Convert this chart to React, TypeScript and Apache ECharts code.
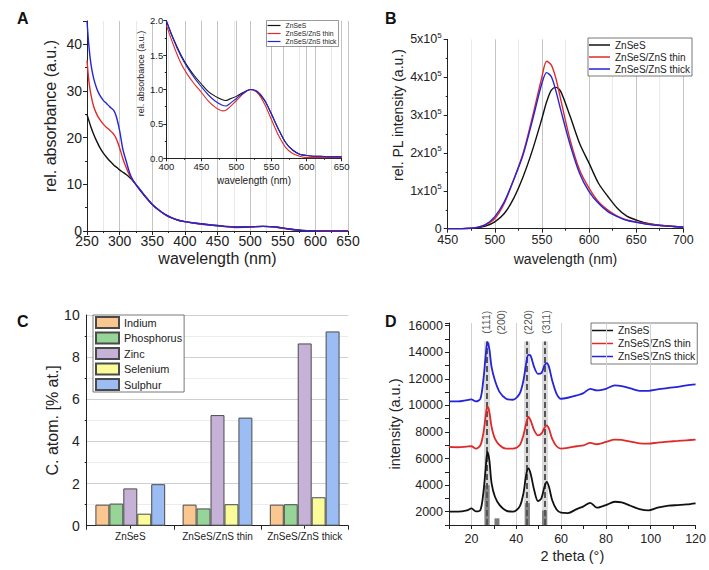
import React, { useEffect, useRef } from 'react';
import * as echarts from 'echarts';

const FONT = "'Liberation Sans', Arial, Helvetica, sans-serif";
const INK = '#222';
const C_BLACK = '#111111';
const C_RED = '#e02a2a';
const C_BLUE = '#2424d8';

const seriesNames = ['ZnSeS', 'ZnSeS/ZnS thin', 'ZnSeS/ZnS thick'];

// Panel A main: absorbance
const aWl = [250, 253, 256, 260, 265, 270, 275, 280, 285, 290, 293, 296, 300, 305, 310, 315, 320, 330, 340, 350, 360, 370, 380, 390, 400, 420, 440, 460, 480, 500, 520, 540, 560, 580, 600, 625, 650];
const aBlack = [25.0, 23.6, 22.3, 20.8, 19.2, 17.8, 16.7, 15.8, 15.0, 14.3, 13.9, 13.6, 13.1, 12.6, 12.1, 11.5, 10.8, 9.1, 7.3, 5.7, 4.5, 3.5, 2.8, 2.3, 2.0, 1.6, 1.3, 1.05, 0.85, 0.9, 1.0, 0.85, 0.42, 0.12, 0.05, 0.03, 0.02];
const aRed = [36.5, 32.0, 29.2, 26.8, 25.0, 23.8, 22.9, 22.2, 21.6, 20.9, 20.3, 19.4, 17.8, 15.5, 13.6, 12.0, 10.9, 9.0, 7.3, 5.7, 4.5, 3.5, 2.8, 2.3, 2.0, 1.55, 1.25, 0.95, 0.75, 0.85, 1.0, 0.8, 0.35, 0.08, 0.02, 0.01, 0.01];
const aBlue = [45.0, 39.5, 35.8, 32.8, 30.5, 29.0, 28.0, 27.3, 26.6, 26.0, 25.3, 24.0, 21.5, 17.5, 15.0, 12.6, 11.0, 9.0, 7.3, 5.7, 4.5, 3.5, 2.8, 2.3, 2.0, 1.6, 1.28, 1.0, 0.8, 0.88, 1.0, 0.85, 0.42, 0.12, 0.05, 0.03, 0.03];

// Panel A inset: normalised absorbance
const iWl = [400, 410, 420, 430, 440, 450, 460, 470, 480, 485, 490, 500, 510, 520, 530, 540, 550, 560, 570, 580, 590, 600, 610, 620, 630, 640, 650];
const iBlack = [2.0, 1.74, 1.52, 1.34, 1.2, 1.08, 0.97, 0.9, 0.85, 0.84, 0.86, 0.9, 0.96, 1.0, 0.96, 0.84, 0.64, 0.42, 0.23, 0.12, 0.06, 0.04, 0.03, 0.03, 0.02, 0.02, 0.02];
const iRed = [1.94, 1.65, 1.4, 1.22, 1.08, 0.96, 0.83, 0.74, 0.69, 0.7, 0.74, 0.84, 0.94, 1.0, 0.95, 0.79, 0.56, 0.33, 0.16, 0.07, 0.03, 0.01, 0.01, 0.01, 0.01, 0.01, 0.01];
const iBlue = [2.0, 1.73, 1.5, 1.32, 1.17, 1.04, 0.92, 0.83, 0.77, 0.76, 0.79, 0.87, 0.95, 1.0, 0.97, 0.85, 0.64, 0.42, 0.23, 0.12, 0.06, 0.04, 0.03, 0.03, 0.02, 0.02, 0.02];

// Panel B: PL intensity
const bWl = [450, 460, 470, 480, 490, 500, 510, 520, 530, 540, 550, 555, 560, 565, 570, 580, 590, 600, 610, 620, 630, 640, 650, 660, 675, 690, 700];
const bBlack = [0, 0, 500, 2000, 7000, 18000, 40000, 80000, 137000, 208000, 291000, 335000, 366000, 373000, 362000, 296000, 225000, 173000, 120000, 85000, 54000, 33000, 23000, 15000, 9000, 6000, 5000];
const bRed = [0, 0, 500, 3000, 10000, 27000, 67000, 129000, 199000, 296000, 401000, 442000, 432000, 395000, 340000, 234000, 155000, 107000, 71000, 49000, 33000, 23000, 18000, 13000, 9000, 6000, 5000];
const bBlue = [0, 0, 500, 3000, 11000, 32000, 71000, 129000, 195000, 287000, 384000, 412000, 401000, 362000, 313000, 221000, 146000, 98000, 67000, 45000, 32000, 22000, 17000, 12000, 8000, 6000, 4000];

// Panel C: composition
const cCategories = ['ZnSeS', 'ZnSeS/ZnS thin', 'ZnSeS/ZnS thick'];
const cElements = ['Indium', 'Phosphorus', 'Zinc', 'Selenium', 'Sulphur'];
const cIndium = [1.0, 1.0, 1.0];
const cPhosphorus = [1.05, 0.82, 1.02];
const cZinc = [1.77, 5.25, 8.65];
const cSelenium = [0.57, 1.02, 1.35];
const cSulphur = [1.97, 5.13, 9.22];
const cColors = ['#f9c78f', '#97d497', '#c5b2d6', '#fbfb9a', '#9cbdf3'];

// Panel D: XRD
const dTheta = [10, 14, 18, 20, 22, 24, 25.3, 26.3, 27.1, 28, 29, 30.5, 32.6, 35.5, 38.5, 41.5, 43.2, 44.4, 45.4, 46.4, 48, 49.7, 51.2, 52.6, 53.6, 54.6, 56, 58, 60, 63, 67, 70, 73, 76, 80, 84, 87, 91, 95, 99, 103, 108, 112, 116, 120];
const dBlack = [2000, 2000, 2100, 2250, 2020, 2130, 3380, 5130, 6500, 5880, 4130, 3130, 2500, 2080, 2000, 2380, 3380, 4750, 5250, 4880, 3630, 2800, 3000, 3880, 4250, 3880, 2880, 2170, 1930, 1900, 2200, 2400, 2670, 2300, 2500, 2750, 2700, 2450, 2200, 2100, 2300, 2450, 2500, 2550, 2630];
const dRed = [6875, 6850, 6900, 6925, 6750, 7000, 7875, 9125, 9925, 9500, 8375, 7500, 7000, 6750, 6750, 7000, 7750, 8625, 9125, 8875, 8125, 7750, 7875, 8325, 8500, 8250, 7500, 6925, 6750, 6800, 6925, 7000, 7175, 7075, 7250, 7425, 7400, 7275, 7150, 7125, 7200, 7275, 7325, 7375, 7425];
const dBlue = [10300, 10300, 10400, 10450, 10300, 10500, 11875, 13625, 14750, 14250, 12875, 11875, 11000, 10500, 10425, 10875, 11875, 13125, 13800, 13750, 12875, 12375, 12425, 13000, 13175, 12900, 11900, 10875, 10500, 10575, 10750, 10925, 11250, 11125, 11250, 11500, 11450, 11275, 11100, 11100, 11200, 11325, 11400, 11500, 11575];
const dRefTheta = [27.0, 31.4, 45.0, 52.6];
const dRefHeight = [4000, 1500, 2650, 2100];
const dPeakTheta = [27.0, 44.9, 52.9];
const dPeakTop = [14800, 14800, 14800];
const hklTheta = [26.4, 33.0, 45.2, 53.1];
const hklLabels = ['(111)', '(200)', '(220)', '(311)'];
const hklLabelY = 16260;
const dGridTheta = [20, 40, 60, 80, 100];

const zip = (xs: number[], ys: number[]) => xs.map((x, i) => [x, ys[i]]);

const axisLine = { show: true, onZero: false, lineStyle: { color: INK, width: 1 } };
const tickStyle = { color: INK, width: 1 };
const lbl = (fontSize: number, margin: number, extra: any = {}) => ({ fontSize, margin, color: INK, fontFamily: FONT, ...extra });
const nameStyle = (fontSize: number, extra: any = {}) => ({ fontSize, color: INK, fontFamily: FONT, ...extra });

function buildOption(): any {
  const lineSeries = (name: string, data: number[][], color: string, xi: number, yi: number, width: number, smooth: number) => ({
    type: 'line', name, data, xAxisIndex: xi, yAxisIndex: yi, symbol: 'none', showSymbol: false, smooth,
    lineStyle: { color, width }, itemStyle: { color }, z: 5,
  });

  const series: any[] = [
    lineSeries(seriesNames[0], zip(aWl, aBlack), C_BLACK, 0, 0, 1.4, 0.3),
    lineSeries(seriesNames[1], zip(aWl, aRed), C_RED, 0, 0, 1.4, 0.3),
    lineSeries(seriesNames[2], zip(aWl, aBlue), C_BLUE, 0, 0, 1.4, 0.3),
    lineSeries(seriesNames[0], zip(iWl, iBlack), C_BLACK, 1, 1, 1.1, 0.3),
    lineSeries(seriesNames[1], zip(iWl, iRed), C_RED, 1, 1, 1.1, 0.3),
    lineSeries(seriesNames[2], zip(iWl, iBlue), C_BLUE, 1, 1, 1.1, 0.3),
    lineSeries(seriesNames[0], zip(bWl, bBlack), C_BLACK, 2, 2, 1.4, 0.3),
    lineSeries(seriesNames[1], zip(bWl, bRed), C_RED, 2, 2, 1.4, 0.3),
    lineSeries(seriesNames[2], zip(bWl, bBlue), C_BLUE, 2, 2, 1.4, 0.3),
  ];

  const cData = [cIndium, cPhosphorus, cZinc, cSelenium, cSulphur];
  cElements.forEach((el, k) => {
    series.push({
      type: 'bar', name: el, data: cData[k], xAxisIndex: 3, yAxisIndex: 3,
      barGap: '0%', barCategoryGap: '20%',
      itemStyle: { color: cColors[k], borderColor: '#4a4a4a', borderWidth: 1 },
    });
  });

  // D: vertical grid lines
  series.push({
    type: 'line', name: 'grid', data: [], xAxisIndex: 5, yAxisIndex: 4, z: 1, silent: true,
    markLine: {
      silent: true, symbol: ['none', 'none'], label: { show: false },
      lineStyle: { type: 'solid', color: '#d2d2d2', width: 1 },
      data: dGridTheta.map((t) => ({ xAxis: t })),
    },
  });
  // D: reference bars
  series.push({
    type: 'bar', name: 'ref', data: zip(dRefTheta, dRefHeight), xAxisIndex: 5, yAxisIndex: 4,
    barWidth: 5, z: 2, itemStyle: { color: '#7c7c7c' },
  });
  // D: dashed peak lines (halo + dash)
  const halo = dPeakTheta.map((t, i) => [
    { coord: [t, 1000], lineStyle: { type: 'solid', color: 'rgba(150,150,150,0.35)', width: 6 } },
    { coord: [t, dPeakTop[i]] },
  ]);
  const dash = dPeakTheta.map((t, i) => [
    { coord: [t, 1000], lineStyle: { type: [6, 3], color: '#555', width: 2 } },
    { coord: [t, dPeakTop[i]] },
  ]);
  series.push({
    type: 'line', name: 'peaks', data: [], xAxisIndex: 5, yAxisIndex: 4, z: 3, silent: true,
    markLine: { silent: true, symbol: ['none', 'none'], label: { show: false }, data: [...halo, ...dash] },
  });
  series.push(lineSeries(seriesNames[0], zip(dTheta, dBlack), C_BLACK, 5, 4, 1.8, 0.3));
  series.push(lineSeries(seriesNames[1], zip(dTheta, dRed), C_RED, 5, 4, 1.8, 0.3));
  series.push(lineSeries(seriesNames[2], zip(dTheta, dBlue), C_BLUE, 5, 4, 1.8, 0.3));
  // D: hkl labels
  series.push({
    type: 'scatter', name: 'hkl', xAxisIndex: 5, yAxisIndex: 4, clip: false, silent: true,
    symbolSize: 1, itemStyle: { color: 'rgba(0,0,0,0)' },
    data: hklTheta.map((t) => [t, hklLabelY]),
    label: {
      show: true, position: 'inside', rotate: 90, fontSize: 10.5, color: INK, fontFamily: FONT,
      formatter: (p: any) => hklLabels[p.dataIndex],
    },
  });

  const titleStyle = { fontSize: 16, fontWeight: 'bold', color: '#111', fontFamily: FONT };
  const legendBase = {
    orient: 'vertical', itemGap: 0, selectedMode: false, backgroundColor: '#fff',
    borderColor: '#555', borderWidth: 0.8, borderRadius: 0,
  };

  return {
    animation: false,
    backgroundColor: '#fff',
    textStyle: { fontFamily: FONT },
    title: [
      { text: 'A', left: 12, top: 5, textStyle: titleStyle },
      { text: 'B', left: 380, top: 5, textStyle: titleStyle },
      { text: 'C', left: 12, top: 308, textStyle: titleStyle },
      { text: 'D', left: 380, top: 308, textStyle: titleStyle },
    ],
    legend: [
      { ...legendBase, data: seriesNames, left: 266.5, top: 20.5, icon: 'rect', itemWidth: 13, itemHeight: 1.2, padding: [1, 2, 1, 1], borderWidth: 0.6, textStyle: { fontSize: 6.8, lineHeight: 8, color: INK, fontFamily: FONT } },
      { ...legendBase, data: seriesNames, left: 588, top: 38, icon: 'rect', itemWidth: 21, itemHeight: 1.5, padding: [1, 2, 1, 1], textStyle: { fontSize: 10, lineHeight: 12, color: INK, fontFamily: FONT } },
      { ...legendBase, data: cElements, left: 93, top: 315, icon: 'rect', itemWidth: 23, itemHeight: 11, itemGap: 2.5, padding: [1, 2, 1, 2], textStyle: { fontSize: 10.9, color: INK, fontFamily: FONT } },
      { ...legendBase, data: seriesNames, left: 591, top: 323, icon: 'rect', itemWidth: 21, itemHeight: 1.5, padding: [1, 2, 1, 1], textStyle: { fontSize: 10.3, lineHeight: 13, color: INK, fontFamily: FONT } },
    ],
    grid: [
      { left: 87, top: 21, width: 261, height: 210 },
      { left: 166.3, top: 20.7, width: 175.4, height: 137.6 },
      { left: 447.7, top: 39.3, width: 235.6, height: 189.4 },
      { left: 86.7, top: 315, width: 261.6, height: 210.7 },
      { left: 449, top: 323, width: 247.7, height: 202 },
    ],
    xAxis: [
      {
        type: 'value', gridIndex: 0, min: 250, max: 650, interval: 50,
        axisLine, axisTick: { length: 4, lineStyle: tickStyle },
        minorTick: { show: true, splitNumber: 2, length: 2, lineStyle: tickStyle },
        axisLabel: lbl(14, 3),
        splitLine: { show: true, lineStyle: { color: '#c4c4c4', width: 1 } },
        minorSplitLine: { show: true, lineStyle: { color: '#e8e8e8', width: 1 } },
        name: 'wavelength (nm)', nameLocation: 'middle', nameGap: 19, nameTextStyle: nameStyle(16),
      },
      {
        type: 'value', gridIndex: 1, min: 400, max: 650, interval: 50,
        axisLine, axisTick: { length: 3, lineStyle: tickStyle },
        minorTick: { show: true, splitNumber: 2, length: 1.5, lineStyle: tickStyle },
        axisLabel: lbl(9.5, 3),
        splitLine: { show: true, lineStyle: { color: '#c4c4c4', width: 1 } },
        name: 'wavelength (nm)', nameLocation: 'middle', nameGap: 17, nameTextStyle: nameStyle(10),
      },
      {
        type: 'value', gridIndex: 2, min: 450, max: 700, interval: 50,
        axisLine, axisTick: { length: 4, lineStyle: tickStyle },
        minorTick: { show: true, splitNumber: 2, length: 2, lineStyle: tickStyle },
        axisLabel: lbl(12.5, 5),
        splitLine: { show: true, lineStyle: { color: '#c4c4c4', width: 1 } },
        minorSplitLine: { show: true, lineStyle: { color: '#ebebeb', width: 1 } },
        name: 'wavelength (nm)', nameLocation: 'middle', nameGap: 23, nameTextStyle: nameStyle(14),
      },
      {
        type: 'category', gridIndex: 3, data: cCategories, position: 'bottom',
        axisLine, axisTick: { show: true, length: 4, lineStyle: tickStyle },
        axisLabel: lbl(10, 6, { interval: 0, hideOverlap: false }), splitLine: { show: false },
      },
      {
        type: 'category', gridIndex: 3, data: cCategories, position: 'bottom',
        axisLine: { show: false }, axisTick: { show: true, alignWithLabel: true, length: 3, lineStyle: tickStyle },
        axisLabel: { show: false }, splitLine: { show: false },
      },
      {
        type: 'value', gridIndex: 4, min: 10, max: 120, interval: 10,
        axisLine, axisTick: { length: 4, lineStyle: tickStyle },
        axisLabel: lbl(12.5, 7, { formatter: (v: number) => (v % 20 === 0 ? String(v) : '') }),
        splitLine: { show: false },
        name: '2 theta (°)', nameLocation: 'middle', nameGap: 23, nameTextStyle: nameStyle(14.5),
      },
    ],
    yAxis: [
      {
        type: 'value', gridIndex: 0, min: 0, max: 45, interval: 10,
        axisLine, axisTick: { length: 4, lineStyle: tickStyle },
        minorTick: { show: true, splitNumber: 2, length: 2, lineStyle: tickStyle },
        axisLabel: lbl(14, 5, { formatter: (v: number) => (v % 10 === 0 ? String(v) : '') }),
        splitLine: { show: false },
        name: 'rel. absorbance (a.u.)', nameLocation: 'middle', nameGap: 29,
        nameTextStyle: nameStyle(16, { padding: [0, 0, 0, 20] }),
      },
      {
        type: 'value', gridIndex: 1, min: 0, max: 2, interval: 0.5,
        axisLine, axisTick: { length: 3, lineStyle: tickStyle },
        minorTick: { show: true, splitNumber: 2, length: 1.5, lineStyle: tickStyle },
        axisLabel: lbl(9.5, 3, { formatter: (v: number) => v.toFixed(1) }),
        splitLine: { show: false },
        name: 'rel. absorbance (a.u.)', nameLocation: 'middle', nameGap: 21,
        nameTextStyle: nameStyle(9, { padding: [0, 0, 0, 32] }),
      },
      {
        type: 'value', gridIndex: 2, min: 0, max: 500000, interval: 100000,
        axisLine, axisTick: { length: 4, lineStyle: tickStyle },
        minorTick: { show: true, splitNumber: 2, length: 2, lineStyle: tickStyle },
        axisLabel: lbl(12.5, 6, {
          formatter: (v: number) => (v === 0 ? '0' : `{b|${v / 100000}x10}{s|5}`),
          rich: {
            b: { fontSize: 12.5, color: INK, fontFamily: FONT },
            s: { fontSize: 8, color: INK, fontFamily: FONT, padding: [0, 0, 8, 0] },
          },
        }),
        splitLine: { show: false },
        name: 'rel. PL intensity (a.u.)', nameLocation: 'middle', nameGap: 43,
        nameTextStyle: nameStyle(14, { padding: [0, 0, 0, 38] }),
      },
      {
        type: 'value', gridIndex: 3, min: 0, max: 10, interval: 2,
        axisLine, axisTick: { length: 4, lineStyle: tickStyle },
        minorTick: { show: true, splitNumber: 2, length: 2, lineStyle: tickStyle },
        axisLabel: lbl(14, 7),
        splitLine: { show: true, lineStyle: { color: '#cfcfcf', width: 1 } },
        minorSplitLine: { show: true, lineStyle: { color: '#ececec', width: 1 } },
        name: 'C. atom. [% at.]', nameLocation: 'middle', nameGap: 22, nameTextStyle: nameStyle(16),
      },
      {
        type: 'value', gridIndex: 4, min: 1000, max: 16200, interval: 1000,
        axisLine, axisTick: { length: 4, lineStyle: tickStyle },
        axisLabel: lbl(12.5, 6, { formatter: (v: number) => (v % 2000 === 0 ? String(v) : '') }),
        splitLine: { show: false },
        name: 'intensity (a.u.)', nameLocation: 'middle', nameGap: 47, nameTextStyle: nameStyle(14.5),
      },
    ],
    series,
  };
}

export default function App() {
  const ref = useRef<HTMLDivElement>(null);
  useEffect(() => {
    if (!ref.current) return;
    const chart = echarts.init(ref.current, null, { renderer: 'svg' });
    chart.setOption(buildOption());
    return () => chart.dispose();
  }, []);
  return (
    <div
      ref={ref}
      style={{ position: 'fixed', left: 0, top: 0, width: 709, height: 570, background: '#fff' }}
    />
  );
}
